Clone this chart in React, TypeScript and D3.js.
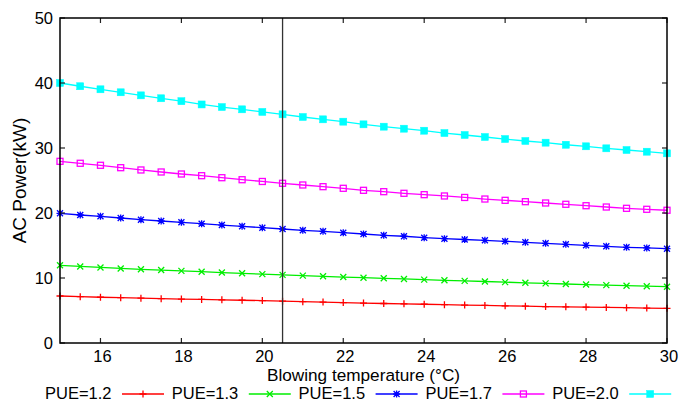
import React from "react";
import * as d3 from "d3";

// Blowing temperature samples (°C)
const temps: number[] = d3.range(15, 30.001, 0.5);

// AC power (kW) for each PUE setting
const pue12: number[] = [7.23, 7.13, 7.04, 6.97, 6.89, 6.82, 6.76, 6.70, 6.64, 6.58, 6.52, 6.44, 6.36, 6.29, 6.22, 6.15, 6.08, 6.02, 5.96, 5.90, 5.84, 5.78, 5.72, 5.67, 5.61, 5.56, 5.52, 5.47, 5.43, 5.38, 5.34];
const pue13: number[] = [11.95, 11.78, 11.62, 11.47, 11.34, 11.22, 11.10, 10.97, 10.84, 10.72, 10.60, 10.48, 10.37, 10.26, 10.15, 10.05, 9.95, 9.85, 9.75, 9.65, 9.56, 9.46, 9.36, 9.26, 9.17, 9.08, 8.99, 8.91, 8.82, 8.74, 8.66];
const pue15: number[] = [19.95, 19.69, 19.49, 19.23, 18.97, 18.77, 18.57, 18.35, 18.15, 17.95, 17.74, 17.54, 17.34, 17.18, 16.97, 16.77, 16.57, 16.42, 16.20, 16.05, 15.92, 15.80, 15.65, 15.49, 15.34, 15.18, 15.03, 14.88, 14.72, 14.62, 14.51];
const pue17: number[] = [27.95, 27.65, 27.34, 26.97, 26.62, 26.31, 26.00, 25.74, 25.43, 25.12, 24.85, 24.57, 24.31, 24.05, 23.80, 23.49, 23.28, 23.03, 22.82, 22.62, 22.39, 22.15, 21.95, 21.74, 21.54, 21.34, 21.12, 20.92, 20.72, 20.57, 20.42];
const pue20: number[] = [40.0, 39.5, 39.03, 38.57, 38.1, 37.65, 37.2, 36.7, 36.3, 35.95, 35.55, 35.18, 34.77, 34.41, 34.05, 33.64, 33.28, 32.97, 32.66, 32.3, 32.0, 31.69, 31.38, 31.08, 30.82, 30.5, 30.26, 29.95, 29.69, 29.43, 29.18];

const seriesLabels: string[] = ["PUE=1.2", "PUE=1.3", "PUE=1.5", "PUE=1.7", "PUE=2.0"];
const seriesColors: string[] = ["#ff0000", "#00ee00", "#0000ff", "#ff00ff", "#00ffff"];
const markerKinds: string[] = ["plus", "cross", "star", "square", "filledSquare"];
const seriesValues: number[][] = [pue12, pue13, pue15, pue17, pue20];

const xTicks: number[] = [16, 18, 20, 22, 24, 26, 28, 30];
const yTicks: number[] = [0, 10, 20, 30, 40, 50];
const markerTemp = 20.5;

const W = 694;
const H = 407;
const margin = { left: 60, right: 27, top: 18, bottom: 64 };
const FONT = "'Liberation Sans', Arial, Helvetica, sans-serif";

function Marker({ kind, x, y, color }: { kind: string; x: number; y: number; color: string }) {
  const s = 3.5;
  switch (kind) {
    case "plus":
      return (
        <path d={`M${x - s},${y}H${x + s}M${x},${y - s}V${y + s}`} stroke={color} strokeWidth={1.3} fill="none" />
      );
    case "cross":
      return (
        <path d={`M${x - 3},${y - 3}L${x + 3},${y + 3}M${x - 3},${y + 3}L${x + 3},${y - 3}`} stroke={color} strokeWidth={1.3} fill="none" />
      );
    case "star":
      return (
        <path
          d={`M${x - s},${y}H${x + s}M${x},${y - s}V${y + s}M${x - 3},${y - 3}L${x + 3},${y + 3}M${x - 3},${y + 3}L${x + 3},${y - 3}`}
          stroke={color}
          strokeWidth={1.3}
          fill="none"
        />
      );
    case "square":
      return <rect x={x - 3} y={y - 3} width={6} height={6} stroke={color} strokeWidth={1.3} fill="none" />;
    default:
      return <rect x={x - 3.5} y={y - 3.5} width={7} height={7} fill={color} stroke={color} strokeWidth={0.5} />;
  }
}

export default function App() {
  const x = d3.scaleLinear().domain([15, 30]).range([margin.left, W - margin.right]);
  const y = d3.scaleLinear().domain([0, 50]).range([H - margin.bottom, margin.top]);
  const line = d3
    .line<number>()
    .x((_, i) => x(temps[i]))
    .y((d) => y(d));

  const x0 = x.range()[0];
  const x1 = x.range()[1];
  const y0 = y.range()[0];
  const y1 = y.range()[1];
  const tickLen = 5;

  const legendStart = 45;
  const legendStep = 126.8;
  const legendY = 394;

  return (
    <svg
      width={W}
      height={H}
      style={{ position: "absolute", left: 0, top: 0, background: "#fff" }}
      fontFamily={FONT}
    >
      {/* series lines and markers */}
      {seriesValues.map((vals, si) => (
        <g key={seriesLabels[si]}>
          <path d={line(vals) || ""} fill="none" stroke={seriesColors[si]} strokeWidth={1.3} />
          {vals.map((v, i) => (
            <Marker key={i} kind={markerKinds[si]} x={x(temps[i])} y={y(v)} color={seriesColors[si]} />
          ))}
        </g>
      ))}

      {/* reference temperature */}
      <line x1={x(markerTemp)} x2={x(markerTemp)} y1={y1} y2={y0} stroke="#333" strokeWidth={1.3} />

      {/* ticks, mirrored on all four sides */}
      {xTicks.map((t) => (
        <g key={`xt${t}`}>
          <line x1={x(t)} x2={x(t)} y1={y0} y2={y0 - tickLen} stroke="#222" strokeWidth={1.2} />
          <line x1={x(t)} x2={x(t)} y1={y1} y2={y1 + tickLen} stroke="#222" strokeWidth={1.2} />
          <text x={x(t) + 2} y={362} fontSize={16.5} textAnchor="middle" fill="#000">
            {t}
          </text>
        </g>
      ))}
      {yTicks.map((t) => (
        <g key={`yt${t}`}>
          <line x1={x0} x2={x0 + tickLen} y1={y(t)} y2={y(t)} stroke="#222" strokeWidth={1.2} />
          <line x1={x1} x2={x1 - tickLen} y1={y(t)} y2={y(t)} stroke="#222" strokeWidth={1.2} />
          <text x={53} y={y(t) + 6} fontSize={16.5} textAnchor="end" fill="#000">
            {t}
          </text>
        </g>
      ))}

      {/* frame */}
      <rect x={x0} y={y1} width={x1 - x0} height={y0 - y1} fill="none" stroke="#000" strokeWidth={1.5} />

      {/* axis titles */}
      <text x={(x0 + x1) / 2} y={380.5} fontSize={17.2} textAnchor="middle" fill="#000">
        Blowing temperature (°C)
      </text>
      <text
        transform={`translate(26,${(y0 + y1) / 2}) rotate(-90)`}
        fontSize={19}
        textAnchor="middle"
        fill="#000"
      >
        AC Power(kW)
      </text>

      {/* legend */}
      {seriesLabels.map((lab, i) => {
        const tx = legendStart + i * legendStep;
        const lx0 = tx + 77;
        const lx1 = lx0 + 42;
        return (
          <g key={`lg${lab}`}>
            <text x={tx} y={398.5} fontSize={16.5} fill="#000">
              {lab}
            </text>
            <line x1={lx0} x2={lx1} y1={legendY} y2={legendY} stroke={seriesColors[i]} strokeWidth={1.3} />
            <Marker kind={markerKinds[i]} x={(lx0 + lx1) / 2} y={legendY} color={seriesColors[i]} />
          </g>
        );
      })}
    </svg>
  );
}
